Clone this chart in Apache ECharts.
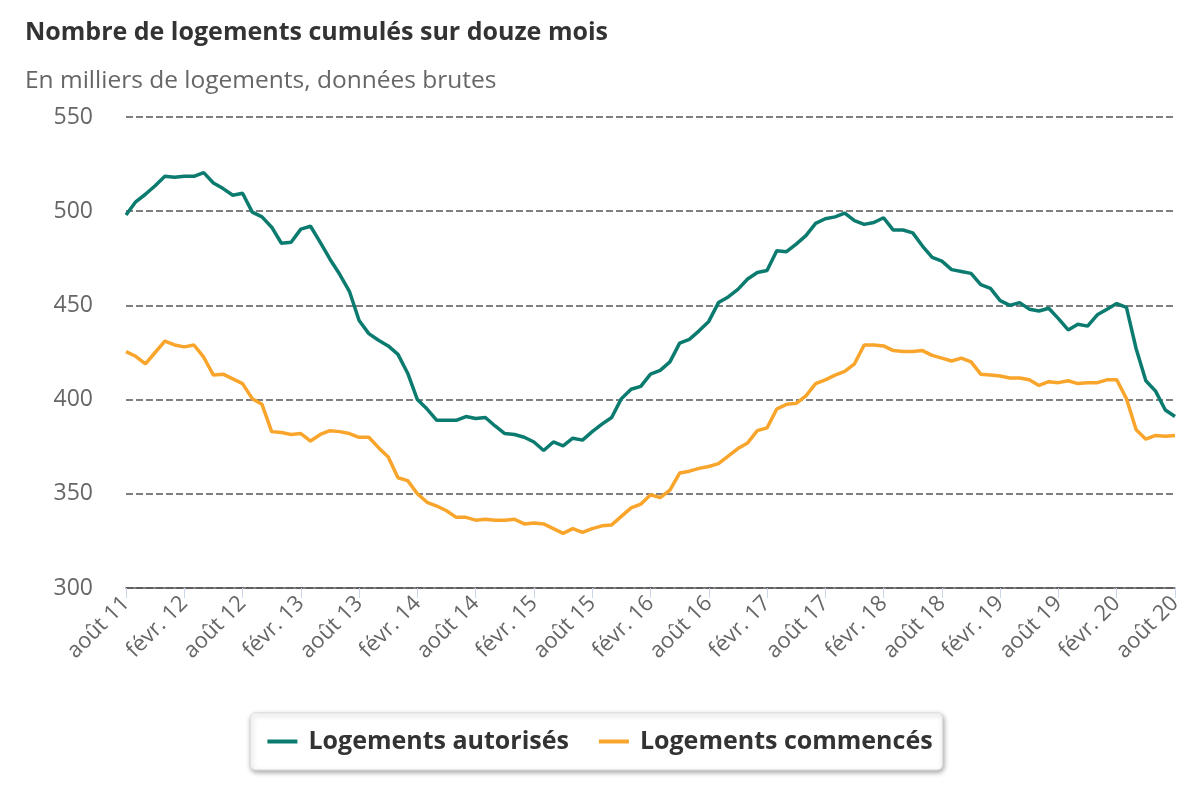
<!DOCTYPE html>
<html>
<head>
<meta charset="utf-8">
<script src="https://cdn.jsdelivr.net/npm/echarts@6/dist/echarts.min.js"></script>
<style>
html,body{margin:0;padding:0;background:#fff;}
#chart{width:1200px;height:800px;}
</style>
</head>
<body>
<div id="chart"></div>
<script>
const categories = [
"août 11","sept. 11","oct. 11","nov. 11","déc. 11",
"janv. 12","févr. 12","mars 12","avr. 12","mai 12","juin 12","juil. 12","août 12","sept. 12","oct. 12","nov. 12","déc. 12",
"janv. 13","févr. 13","mars 13","avr. 13","mai 13","juin 13","juil. 13","août 13","sept. 13","oct. 13","nov. 13","déc. 13",
"janv. 14","févr. 14","mars 14","avr. 14","mai 14","juin 14","juil. 14","août 14","sept. 14","oct. 14","nov. 14","déc. 14",
"janv. 15","févr. 15","mars 15","avr. 15","mai 15","juin 15","juil. 15","août 15","sept. 15","oct. 15","nov. 15","déc. 15",
"janv. 16","févr. 16","mars 16","avr. 16","mai 16","juin 16","juil. 16","août 16","sept. 16","oct. 16","nov. 16","déc. 16",
"janv. 17","févr. 17","mars 17","avr. 17","mai 17","juin 17","juil. 17","août 17","sept. 17","oct. 17","nov. 17","déc. 17",
"janv. 18","févr. 18","mars 18","avr. 18","mai 18","juin 18","juil. 18","août 18","sept. 18","oct. 18","nov. 18","déc. 18",
"janv. 19","févr. 19","mars 19","avr. 19","mai 19","juin 19","juil. 19","août 19","sept. 19","oct. 19","nov. 19","déc. 19",
"janv. 20","févr. 20","mars 20","avr. 20","mai 20","juin 20","juil. 20","août 20"
];

const autorises = [
498,505,509,513.5,518.5,518,518.5,518.5,520.5,515,512,508.5,509.5,499.5,497,491.5,483,483.5,490.5,492,
483.5,474.5,466.5,457.5,442,435,431.5,428.5,424,414,400,395,389,389,389,391,390,390.5,386,382,
381.5,380,377.5,373,377.5,375.5,379.5,378.5,383,387,390.5,400.5,405.5,407,413.5,415.5,420,430,432,436.5,
441.5,451.5,454.5,458.5,464,467.5,468.5,479,478.5,482.5,487,493.5,496,497,499,495,493,494,496.5,490,
490,488.5,481.5,475.5,473.5,469,468,467,461,459,452.5,450,451.5,448,447,448.5,443,437,440,439,
445,448,451,449,427,410,404.5,394.5,391
];

const commences = [
425.5,423,419,425,431,429,428,429,422.5,413,413.5,411,408.5,400.5,397.5,383,382.5,381.5,382,378,
381.5,383.5,383,382,380,380,374.5,369.5,358.5,357,350,345.5,343.5,341,337.5,337.5,336,336.5,336,336,
336.5,334,334.5,334,331.5,329,331.5,329.5,331.5,333,333.5,338,342.5,344.5,349.5,348,352,361,362,363.5,
364.5,366,370,374,377,383.5,385,395,397.5,398,402,408.5,410.5,413,415,419,429,429,428.5,426,
425.5,425.5,426,423.5,422,420.5,422,420,413.5,413,412.5,411.5,411.5,410.5,407.5,409.5,409,410,408.5,409,
409,410.5,410.5,400.5,384,379,381,380.5,381
];

const seriesNames = ["Logements autorisés", "Logements commencés"];
const chartTitle = "Nombre de logements cumulés sur douze mois";
const chartSubtitle = "En milliers de logements, données brutes";

const chart = echarts.init(document.getElementById('chart'), null, {renderer: 'canvas'});
const FONT = '"Open Sans", "DejaVu Sans", sans-serif';

chart.setOption({
  animation: false,
  backgroundColor: '#ffffff',
  title: [
    {
      text: chartTitle,
      left: 20, top: 15,
      textStyle: {fontFamily: FONT, fontSize: 25, fontWeight: 'bold', color: '#333333'}
    },
    {
      text: chartSubtitle,
      left: 20, top: 64,
      textStyle: {fontFamily: FONT, fontSize: 24.5, fontWeight: 'normal', color: '#666666'}
    }
  ],
  legend: {
    data: seriesNames,
    bottom: 30,
    left: 'center',
    icon: 'rect',
    itemWidth: 30,
    itemHeight: 4,
    itemGap: 30,
    padding: [16, 10, 16, 17],
    backgroundColor: '#ffffff',
    borderColor: '#dddddd',
    borderWidth: 1,
    borderRadius: 5,
    shadowColor: 'rgba(0,0,0,0.35)',
    shadowBlur: 5,
    shadowOffsetX: 1,
    shadowOffsetY: 2,
    textStyle: {fontFamily: FONT, fontSize: 25, fontWeight: 'bold', color: '#333333', padding: [0, 0, 0, 6]}
  },
  grid: {left: 126, right: 25, top: 117, bottom: 212, containLabel: false},
  xAxis: {
    type: 'category',
    data: categories,
    boundaryGap: false,
    axisLine: {show: true, lineStyle: {color: '#555555', width: 1.5}},
    axisTick: {show: true, interval: 5, length: 10, lineStyle: {color: '#ccd6eb', width: 1}},
    axisLabel: {
      interval: 5,
      rotate: 45,
      margin: 12,
      fontFamily: FONT,
      fontSize: 22,
      color: '#666666'
    },
    splitLine: {show: false}
  },
  yAxis: {
    type: 'value',
    min: 300,
    max: 550,
    interval: 50,
    axisLine: {show: false},
    axisTick: {show: false},
    axisLabel: {margin: 33, fontFamily: FONT, fontSize: 23, color: '#666666'},
    splitLine: {show: true, lineStyle: {color: '#555555', width: 1.5, type: [7, 3]}}
  },
  series: [
    {
      name: seriesNames[0],
      type: 'line',
      data: autorises,
      symbol: 'none',
      lineStyle: {color: '#0b7b70', width: 3.5},
      itemStyle: {color: '#0b7b70'},
      z: 3
    },
    {
      name: seriesNames[1],
      type: 'line',
      data: commences,
      symbol: 'none',
      lineStyle: {color: '#f9a52b', width: 3.5},
      itemStyle: {color: '#f9a52b'},
      z: 2
    }
  ]
});
</script>
</body>
</html>
